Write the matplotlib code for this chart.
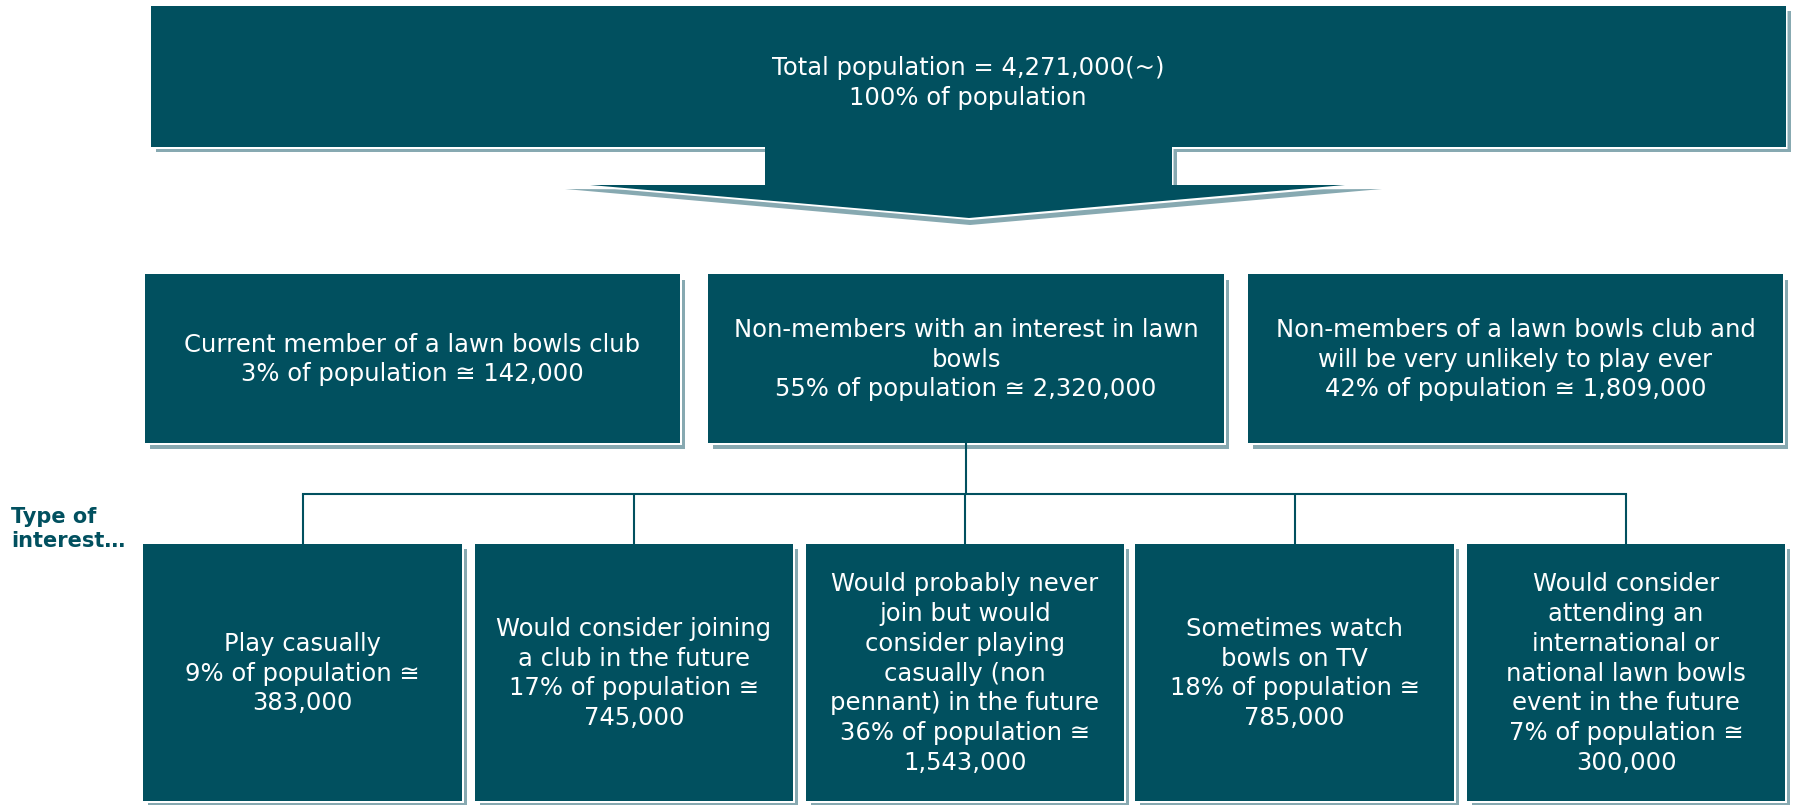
import matplotlib
matplotlib.use("Agg")
import matplotlib.pyplot as plt
from matplotlib.patches import Polygon, Rectangle

plt.rcParams['font.family'] = ['DejaVu Sans']

# ---- data -------------------------------------------------------------
total_population = 4271000
total_pct = 100

member_labels = [
    "Current member of a lawn bowls club",
    "Non-members with an interest in lawn\nbowls",
    "Non-members of a lawn bowls club and\nwill be very unlikely to play ever",
]
member_pct = [3, 55, 42]
member_count = [142000, 2320000, 1809000]

interest_labels = [
    "Play casually",
    "Would consider joining\na club in the future",
    "Would probably never\njoin but would\nconsider playing\ncasually (non\npennant) in the future",
    "Sometimes watch\nbowls on TV",
    "Would consider\nattending an\ninternational or\nnational lawn bowls\nevent in the future",
]
interest_pct = [9, 17, 36, 18, 7]
interest_count = [383000, 745000, 1543000, 785000, 300000]

# ---- style ------------------------------------------------------------
FILL = "#01505F"
SHADOW = "#87A9B1"
TXT = "white"
FS = 17.5
LS = 1.3

W, H = 1793, 805
fig = plt.figure(figsize=(W / 100, H / 100), dpi=100)
ax = fig.add_axes([0, 0, 1, 1])
ax.set_xlim(0, W)
ax.set_ylim(H, 0)
ax.axis("off")


def shadowed_box(x0, y0, x1, y1, dx=5, dy=6):
    w, h = x1 - x0, y1 - y0
    ax.add_patch(Rectangle((x0 + dx, y0 + dy), w, h,
                           facecolor=SHADOW, edgecolor="none", zorder=1))
    ax.add_patch(Rectangle((x0 + 1.8, y0 + 1.8), w, h,
                           facecolor="white", edgecolor="none", zorder=1.5))
    ax.add_patch(Rectangle((x0, y0), w, h, facecolor=FILL,
                           edgecolor="none", zorder=2))


def box_text(x0, y0, x1, y1, s):
    ax.text((x0 + x1) / 2, (y0 + y1) / 2 + 1, s, ha="center", va="center",
            color=TXT, fontsize=FS, linespacing=LS, zorder=5)


# ---- top block with downward arrow -------------------------------------
top = [(151, 6), (1786, 6), (1786, 147), (1172, 147), (1172, 185),
       (1345, 185), (969, 218), (590, 185), (765, 185), (765, 147),
       (151, 147)]
shadow_top = [(x + 5, y + 5) for x, y in top[:5]] + \
             [(1382, 189), (970, 225), (565, 189)] + \
             [(x + 5, y + 5) for x, y in top[8:]]
ax.add_patch(Polygon(shadow_top, closed=True, facecolor=SHADOW,
                     edgecolor="none", zorder=1))
ax.add_patch(Polygon([(x + 1.5, y + 2) for x, y in top], closed=True,
                     facecolor="white", edgecolor="none", zorder=1.5))
ax.add_patch(Polygon(top, closed=True, facecolor=FILL, edgecolor="none",
                     zorder=2))
ax.text(968, 83,
        f"Total population = {total_population:,}(~)\n{total_pct}% of population",
        ha="center", va="center", color=TXT, fontsize=FS, linespacing=LS,
        zorder=5)

# ---- membership row ----------------------------------------------------
mid_x = [(145, 680), (708, 1224), (1248, 1783)]
mid_y = (274, 443)
for (x0, x1), lab, p, c in zip(mid_x, member_labels, member_pct, member_count):
    shadowed_box(x0, mid_y[0], x1, mid_y[1])
    box_text(x0, mid_y[0], x1, mid_y[1],
             f"{lab}\n{p}% of population \u2245 {c:,}")

# ---- interest row ------------------------------------------------------
bot_x = [(143, 462), (475, 793), (806, 1124), (1135, 1454), (1467, 1785)]
bot_y = (544, 801)
for (x0, x1), lab, p, c in zip(bot_x, interest_labels, interest_pct,
                               interest_count):
    shadowed_box(x0, bot_y[0], x1, bot_y[1], dx=5, dy=5)
    box_text(x0, bot_y[0], x1, bot_y[1],
             f"{lab}\n{p}% of population \u2245\n{c:,}")

# ---- connector tree ----------------------------------------------------
bus_y = 494
centers = [(a + b) / 2 for a, b in bot_x]
parent_x = (mid_x[1][0] + mid_x[1][1]) / 2
ax.plot([parent_x, parent_x], [mid_y[1], bus_y], color=FILL, lw=1.5,
        zorder=3, solid_capstyle="butt")
ax.plot([centers[0], centers[-1]], [bus_y, bus_y], color=FILL, lw=1.5,
        zorder=3, solid_capstyle="projecting")
for cx in centers:
    ax.plot([cx, cx], [bus_y, bot_y[0]], color=FILL, lw=1.5, zorder=3,
            solid_capstyle="butt")

ax.text(11, 529, "Type of\ninterest\u2026", ha="left", va="center",
        color=FILL, fontsize=15, fontweight="bold", linespacing=1.3)

fig.savefig("out.png", dpi=100)
